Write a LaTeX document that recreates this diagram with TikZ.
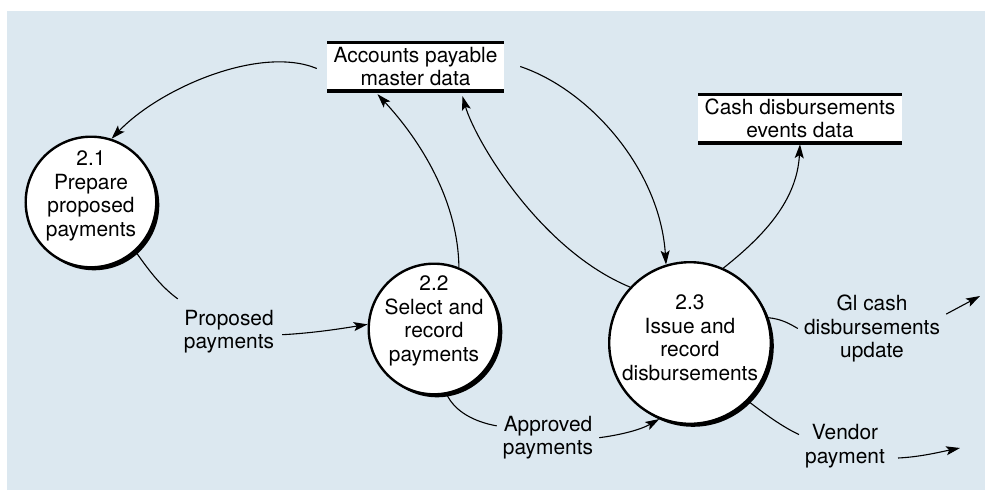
\documentclass[tikz,border=0pt]{standalone}
\usepackage{fontspec}
\setmainfont{TeX Gyre Heros}
\usetikzlibrary{arrows.meta,shadows,calc}
\definecolor{panel}{RGB}{220,232,240}
\begin{document}
\begin{tikzpicture}[x=1pt,y=-1pt,
  every node/.style={font=\fontsize{20.9}{23.5}\selectfont, align=center},
  proc/.style={circle, draw, line width=2.4pt, fill=white, inner sep=0pt,
    drop shadow={shadow xshift=3pt, shadow yshift=-3pt, opacity=1, fill=black}},
  ptext/.style={inner sep=0pt},
  store/.style={fill=white, minimum height=51pt, inner sep=0pt,
    path picture={\draw[line width=6pt]
      (path picture bounding box.north west) -- (path picture bounding box.north east)
      (path picture bounding box.south west) -- (path picture bounding box.south east);}},
  flow/.style={line width=1.1pt, -{Stealth[length=14pt,width=9pt,inset=3pt]}},
  plain/.style={line width=1.1pt},
  lbl/.style={inner sep=6pt}]

% canvas and panel
\fill[white] (0,0) rectangle (985,490);
\useasboundingbox (0,0) rectangle (985,490);
\fill[panel] (7,11) rectangle (985,490);

% data stores
\node[store, minimum width=177pt] (ap) at (415.5,66.5) {Accounts payable\\master data};
\node[store, minimum width=204pt] (cd) at (800,118.5) {Cash disbursements\\events data};

% processes
\node[proc, minimum size=130.6pt] (c21) at (91,202) {};
\node[ptext] (t21) at (91,196) {2.1\\Prepare\\proposed\\payments};
\node[proc, minimum size=130.6pt] (c22) at (434,329) {};
\node[ptext] (t22) at (434,320.7) {2.2\\Select and\\record\\payments};
\node[proc, minimum size=161.6pt] (c23) at (690,343) {};
\node[ptext] (t23) at (690,337.5) {2.3\\Issue and\\record\\disbursements};

% flow labels
\node[lbl] (tpp) at (229,331.7) {Proposed\\payments};
\node[lbl] (tap) at (548,437.7) {Approved\\payments};
\node[lbl] (tgl) at (872,328.5) {Gl cash\\disbursements\\update};
\node[lbl] (tvp) at (845,446) {Vendor\\payment};
\coordinate (glend) at (980,296);
\coordinate (vpend) at (960,448);

% flows between stores and processes
\draw[flow] ($(ap.west)+(-10,2)$) .. controls (260,45) and (160,88) .. (c21.72);
\draw[flow] (c22.68) .. controls (458,200) and (420,140) .. ($(ap.south)+(-38,2)$);
\draw[flow] (c23.137) .. controls (540,250) and (475,140) .. ($(ap.south)+(47,4)$);
\draw[flow] ($(ap.east)+(16,0)$) .. controls (590,90) and (660,170) .. (c23.107);
\draw[flow] (c23.66) .. controls (765,235) and (797,200) .. (cd.south);

% labelled flows
\draw[plain] (c21.-48) .. controls (152,275) and (163,288) .. ($(tpp.north west)+(0,-5)$);
\draw[flow] ($(tpp.east)+(2,3)$) .. controls (315,333) and (345,328) .. (c22.176);
\draw[plain] (c22.-79) .. controls (455,412) and (475,422) .. (tap.167);
\draw[flow] (tap.east) .. controls (620,435) and (640,430) .. (c23.-112);
\draw[plain] (c23.18) .. controls (782,319) and (790,324) .. (tgl.west);
\draw[flow] (tgl.11) -- (glend);
\draw[plain] (c23.-45) .. controls (770,418) and (785,428) .. (tvp.166);
\draw[flow] ($(tvp.east)+(7,12)$) .. controls (920,457) and (940,452) .. (vpend);
\end{tikzpicture}
\end{document}
